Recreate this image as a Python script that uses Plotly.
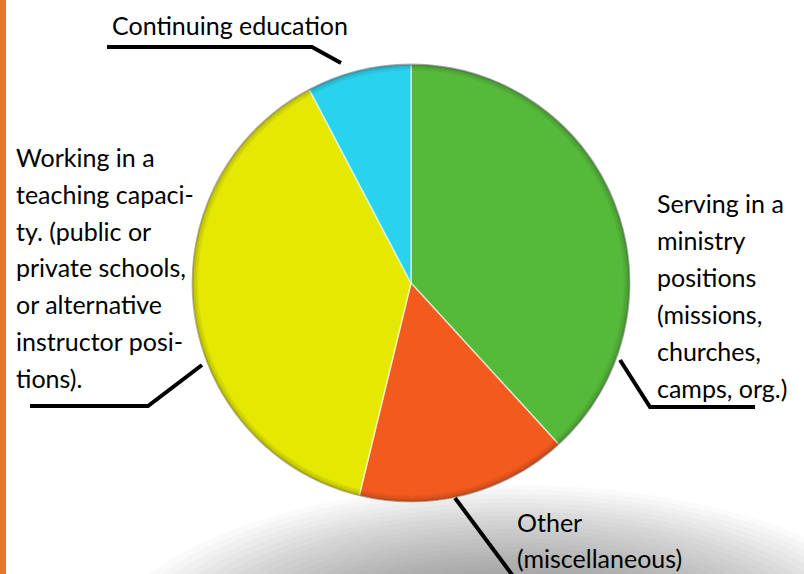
import plotly.graph_objects as go

# ---- data ----
categories = [
    "Serving in a ministry positions (missions, churches, camps, org.)",
    "Other (miscellaneous)",
    "Working in a teaching capacity. (public or private schools, or alternative instructor positions).",
    "Continuing education",
]
values = [38.2, 15.6, 38.5, 7.7]
colors = ["#55B93A", "#F35A1E", "#E5E800", "#29D3EE"]

label_lines = {
    "ministry": ["Serving in a", "ministry", "positions", "(missions,", "churches,", "camps, org.)"],
    "other": ["Other", "(miscellaneous)"],
    "teaching": ["Working in a", "teaching capaci-", "ty. (public or", "private schools,",
                 "or alternative", "instructor posi-", "tions)."],
    "education": ["Continuing education"],
}

W, H = 804, 574


def px(x):
    return x / W


def py(y):
    return 1 - y / H


# pie geometry (pixels)
CX, CY, R = 411, 283, 219

fig = go.Figure()
fig.add_trace(go.Pie(
    labels=categories,
    values=values,
    sort=False,
    direction="clockwise",
    rotation=0,
    marker=dict(colors=colors, line=dict(color="rgba(255,255,255,0.6)", width=1.5)),
    textinfo="none",
    hoverinfo="label+percent",
    showlegend=False,
    domain=dict(x=[px(CX - R), px(CX + R)], y=[py(CY + R), py(CY - R)]),
))

shapes = []
# left orange bar
shapes.append(dict(type="rect", xref="paper", yref="paper", x0=0, x1=px(6), y0=0, y1=1,
                   fillcolor="#E87728", line=dict(width=0), layer="above"))

# soft shadow at bottom (stacked translucent ellipses)
n = 34
for i in range(n):
    f = 1 - i / n
    rx, ry = 360 * f + 50, 150 * f + 20
    ex, ey = 510, 655
    shapes.append(dict(type="circle", xref="paper", yref="paper",
                       x0=px(ex - rx), x1=px(ex + rx), y0=py(ey + ry), y1=py(ey - ry),
                       fillcolor="rgba(80,80,80,0.026)", line=dict(width=0), layer="below"))

# rim darkening of pie
for i, a in enumerate([0.35, 0.18, 0.10, 0.06]):
    r = R - 0.5 - i * 1.6
    shapes.append(dict(type="circle", xref="paper", yref="paper",
                       x0=px(CX - r), x1=px(CX + r), y0=py(CY + r), y1=py(CY - r),
                       fillcolor="rgba(0,0,0,0)", line=dict(color=f"rgba(40,40,40,{a})", width=1.8),
                       layer="above"))

# leader lines
leaders = [
    [(107, 47), (312, 47), (341, 63)],
    [(30, 406), (148, 406), (202, 365)],
    [(620, 360), (650, 407), (755, 407)],
    [(455, 498), (516, 580)],
]
for pts in leaders:
    path = "M " + " L ".join(f"{px(x):.5f},{py(y):.5f}" for x, y in pts)
    shapes.append(dict(type="path", xref="paper", yref="paper", path=path,
                       line=dict(color="black", width=4), layer="above"))

font = dict(family="Lato, Open Sans, sans-serif", size=25, color="#000000")
annotations = []
blocks = [
    ("education", 110, 25, 37),
    ("teaching", 14, 157, 36.8),
    ("ministry", 655, 203, 37),
    ("other", 515, 522, 36),
]
for key, x0, y0, step in blocks:
    for j, line in enumerate(label_lines[key]):
        annotations.append(dict(x=px(x0), y=py(y0 + j * step), xref="paper", yref="paper",
                                text=line, showarrow=False, xanchor="left", yanchor="middle",
                                font=font))

fig.update_layout(
    width=W, height=H,
    margin=dict(l=0, r=0, t=0, b=0),
    paper_bgcolor="white", plot_bgcolor="white",
    shapes=shapes, annotations=annotations,
)
fig.write_html("out.html", config={"displayModeBar": False},
               post_script="document.body.style.margin='0';document.body.style.overflow='hidden';")
